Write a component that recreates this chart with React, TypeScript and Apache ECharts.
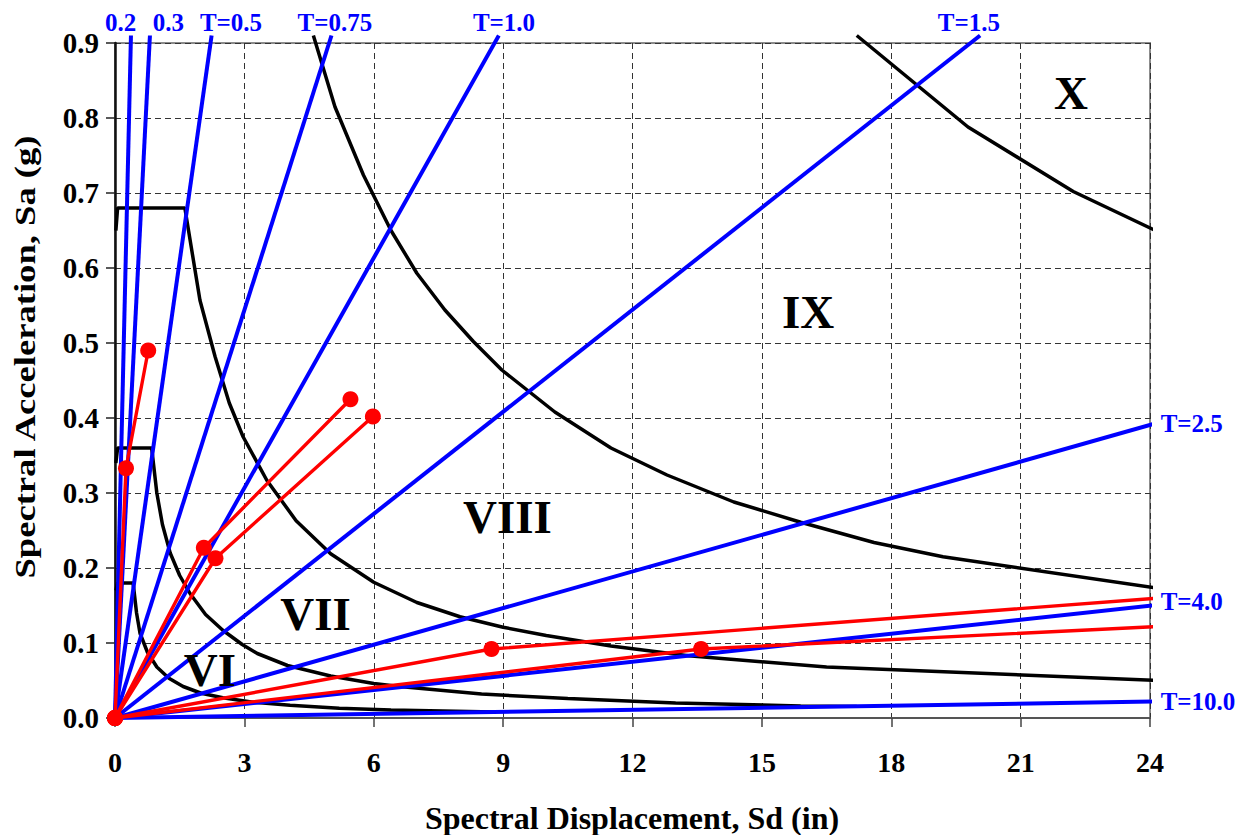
import React, { useEffect, useRef } from "react";
import * as echarts from "echarts";

const FONT = '"Liberation Serif", "Times New Roman", serif';

// Constant-period lines: each ray runs from the origin to its end point [Sd (in), Sa (g)]
const periodNames = ["0.2", "0.3", "T=0.5", "T=0.75", "T=1.0", "T=1.5", "T=2.5", "T=4.0", "T=10.0"];
const periodEnds: [number, number][] = [
  [0.37, 0.91], [0.81, 0.91], [2.24, 0.91], [5.02, 0.91], [8.9, 0.91],
  [20.06, 0.91], [24.2, 0.394], [24.2, 0.151], [24.2, 0.022],
];
// where each period name is written (data coordinates)
const periodLabelAt: [number, number][] = [
  [0.13, 0.928], [1.24, 0.928], [2.69, 0.928], [5.1, 0.928], [9.02, 0.928],
  [19.8, 0.928], [24.2, 0.393], [24.2, 0.155], [24.2, 0.0217],
];

// Intensity demand spectra (ADRS), lower limit of VI up to the IX/X limit
const mmiVILower: [number, number][] = [
  [0.02, 0.17], [0.06, 0.18], [0.42, 0.18], [0.5, 0.14], [0.58, 0.113], [0.75, 0.088],
  [0.97, 0.068], [1.25, 0.053], [1.58, 0.042], [2.0, 0.033], [2.5, 0.027], [3.2, 0.021],
  [4.06, 0.017], [5.2, 0.013], [6.4, 0.0107], [8.8, 0.008],
];
const mmiVItoVII: [number, number][] = [
  [0.02, 0.34], [0.06, 0.36], [0.85, 0.36], [0.97, 0.3], [1.1, 0.258], [1.28, 0.22],
  [1.5, 0.19], [1.74, 0.166], [2.1, 0.138], [2.5, 0.117], [2.95, 0.098], [3.3, 0.086],
  [4.0, 0.07], [5.0, 0.056], [6.0, 0.046], [6.6, 0.042], [8.5, 0.032], [10.5, 0.026],
  [13.0, 0.02], [15.9, 0.016], [17.2, 0.0155],
];
const mmiVIItoVIII: [number, number][] = [
  [0.02, 0.65], [0.06, 0.68], [1.62, 0.68], [1.97, 0.557], [2.32, 0.482], [2.65, 0.42],
  [2.97, 0.375], [3.52, 0.317], [4.2, 0.263], [5.0, 0.219], [6.0, 0.181], [7.0, 0.154],
  [8.0, 0.135], [9.0, 0.121], [10.0, 0.11], [11.5, 0.096], [13.3, 0.083], [16.5, 0.068],
  [24.2, 0.05],
];
const mmiVIIItoIX: [number, number][] = [
  [4.6, 0.91], [5.1, 0.815], [5.76, 0.724], [6.4, 0.65], [7.0, 0.593], [7.65, 0.544],
  [8.31, 0.502], [8.97, 0.464], [10.2, 0.408], [11.5, 0.36], [12.8, 0.324], [14.35, 0.288],
  [15.9, 0.261], [17.6, 0.234], [19.2, 0.215], [24.2, 0.173],
];
const mmiIXtoX: [number, number][] = [
  [17.2, 0.91], [19.78, 0.788], [22.22, 0.702], [24.2, 0.648],
];

// Building capacity curves: origin, yield point, ultimate point
const capacityA: [number, number][] = [[0, 0], [0.255, 0.333], [0.77, 0.49]];
const capacityB: [number, number][] = [[0, 0], [2.06, 0.227], [5.46, 0.425]];
const capacityC: [number, number][] = [[0, 0], [2.33, 0.213], [5.98, 0.402]];
const capacityD: [number, number][] = [[0, 0], [8.73, 0.092], [24.2, 0.16]];
const capacityE: [number, number][] = [[0, 0], [13.59, 0.092], [24.2, 0.122]];

// Modified Mercalli intensity zones
const regionNames = ["VI", "VII", "VIII", "IX", "X"];
const regionAt: [number, number][] = [
  [2.2, 0.064], [4.65, 0.139], [9.1, 0.268], [16.07, 0.541], [22.17, 0.833],
];

const X_MAX = 24;

export default function App() {
  const ref = useRef<HTMLDivElement>(null);

  useEffect(() => {
    if (!ref.current) return;
    const chart = echarts.init(ref.current, undefined, { renderer: "svg" });

    const spectra = [mmiVILower, mmiVItoVII, mmiVIItoVIII, mmiVIIItoIX, mmiIXtoX].map((d) => ({
      type: "line",
      data: d,
      symbol: "none",
      clip: false,
      silent: true,
      z: 2,
      lineStyle: { color: "#000000", width: 3.5 },
    }));

    const periods = periodEnds.map((e) => ({
      type: "line",
      data: [[0, 0], e],
      symbol: "none",
      clip: false,
      silent: true,
      z: 3,
      lineStyle: { color: "#0000ff", width: 4 },
    }));

    const capacities = [capacityA, capacityB, capacityC, capacityD, capacityE].map((d) => ({
      type: "line",
      data: d.map((p) => (p[0] > X_MAX ? { value: p, symbol: "none" } : { value: p })),
      symbol: "circle",
      symbolSize: 16,
      showSymbol: true,
      showAllSymbol: true,
      clip: false,
      silent: true,
      z: 4,
      itemStyle: { color: "#ff0000", opacity: 1 },
      lineStyle: { color: "#ff0000", width: 3.4 },
    }));

    const labelBase = {
      show: true,
      formatter: "{b}",
      fontWeight: "bold",
      fontFamily: FONT,
      opacity: 1,
      textBorderWidth: 0,
      textShadowBlur: 0,
    };

    const periodLabels = {
      type: "scatter",
      symbolSize: 0,
      clip: false,
      silent: true,
      z: 5,
      itemStyle: { opacity: 1, color: "#0000ff" },
      data: periodLabelAt.map((p, i) => ({
        value: p,
        name: periodNames[i],
        label: { position: p[0] > X_MAX ? "right" : "inside", distance: 2 },
      })),
      label: { ...labelBase, color: "#0000ff", fontSize: 25 },
    };

    const regionLabels = {
      type: "scatter",
      symbolSize: 0,
      clip: false,
      silent: true,
      z: 5,
      itemStyle: { opacity: 1, color: "#000000" },
      data: regionAt.map((p, i) => ({ value: p, name: regionNames[i] })),
      label: { ...labelBase, position: "inside", color: "#000000", fontSize: 47 },
    };

    const tickLabel = { color: "#000", fontWeight: "bold", fontFamily: FONT };
    const gridLine = { show: true, lineStyle: { color: "#333", width: 1, type: [6, 4] } };

    chart.setOption({
      animation: false,
      backgroundColor: "#ffffff",
      grid: {
        left: 115,
        right: 94,
        top: 43,
        bottom: 117,
        show: true,
        borderColor: "#8c8c8c",
        borderWidth: 2,
        backgroundColor: "transparent",
      },
      xAxis: {
        type: "value",
        min: 0,
        max: 24,
        interval: 3,
        axisLine: { show: true, onZero: false, lineStyle: { color: "#555", width: 2 } },
        axisTick: { show: true, length: 9, lineStyle: { color: "#444", width: 1.5 } },
        axisLabel: { ...tickLabel, fontSize: 28, margin: 30 },
        splitLine: gridLine,
      },
      yAxis: {
        type: "value",
        min: 0,
        max: 0.9,
        interval: 0.1,
        axisLine: { show: true, onZero: false, lineStyle: { color: "#111", width: 2.5 } },
        axisTick: { show: true, length: 9, lineStyle: { color: "#222", width: 1.5 } },
        axisLabel: {
          ...tickLabel,
          fontSize: 29,
          margin: 16,
          formatter: (v: number) => v.toFixed(1),
        },
        splitLine: gridLine,
      },
      graphic: [
        {
          type: "text",
          x: 632,
          y: 818,
          silent: true,
          style: {
            text: "Spectral Displacement, Sd (in)",
            fill: "#000",
            fontSize: 32,
            fontWeight: "bold",
            fontFamily: FONT,
            align: "center",
            verticalAlign: "middle",
          },
        },
        {
          type: "text",
          x: 25,
          y: 357,
          rotation: Math.PI / 2,
          scaleX: 1.22,
          silent: true,
          style: {
            text: "Spectral Acceleration, Sa (g)",
            fill: "#000",
            fontSize: 30,
            fontWeight: "bold",
            fontFamily: FONT,
            align: "center",
            verticalAlign: "middle",
          },
        },
      ],
      series: [...spectra, ...periods, ...capacities, periodLabels, regionLabels],
    });

    return () => chart.dispose();
  }, []);

  return (
    <div
      ref={ref}
      style={{ position: "fixed", left: 0, top: 0, width: 1244, height: 835, background: "#fff" }}
    />
  );
}
